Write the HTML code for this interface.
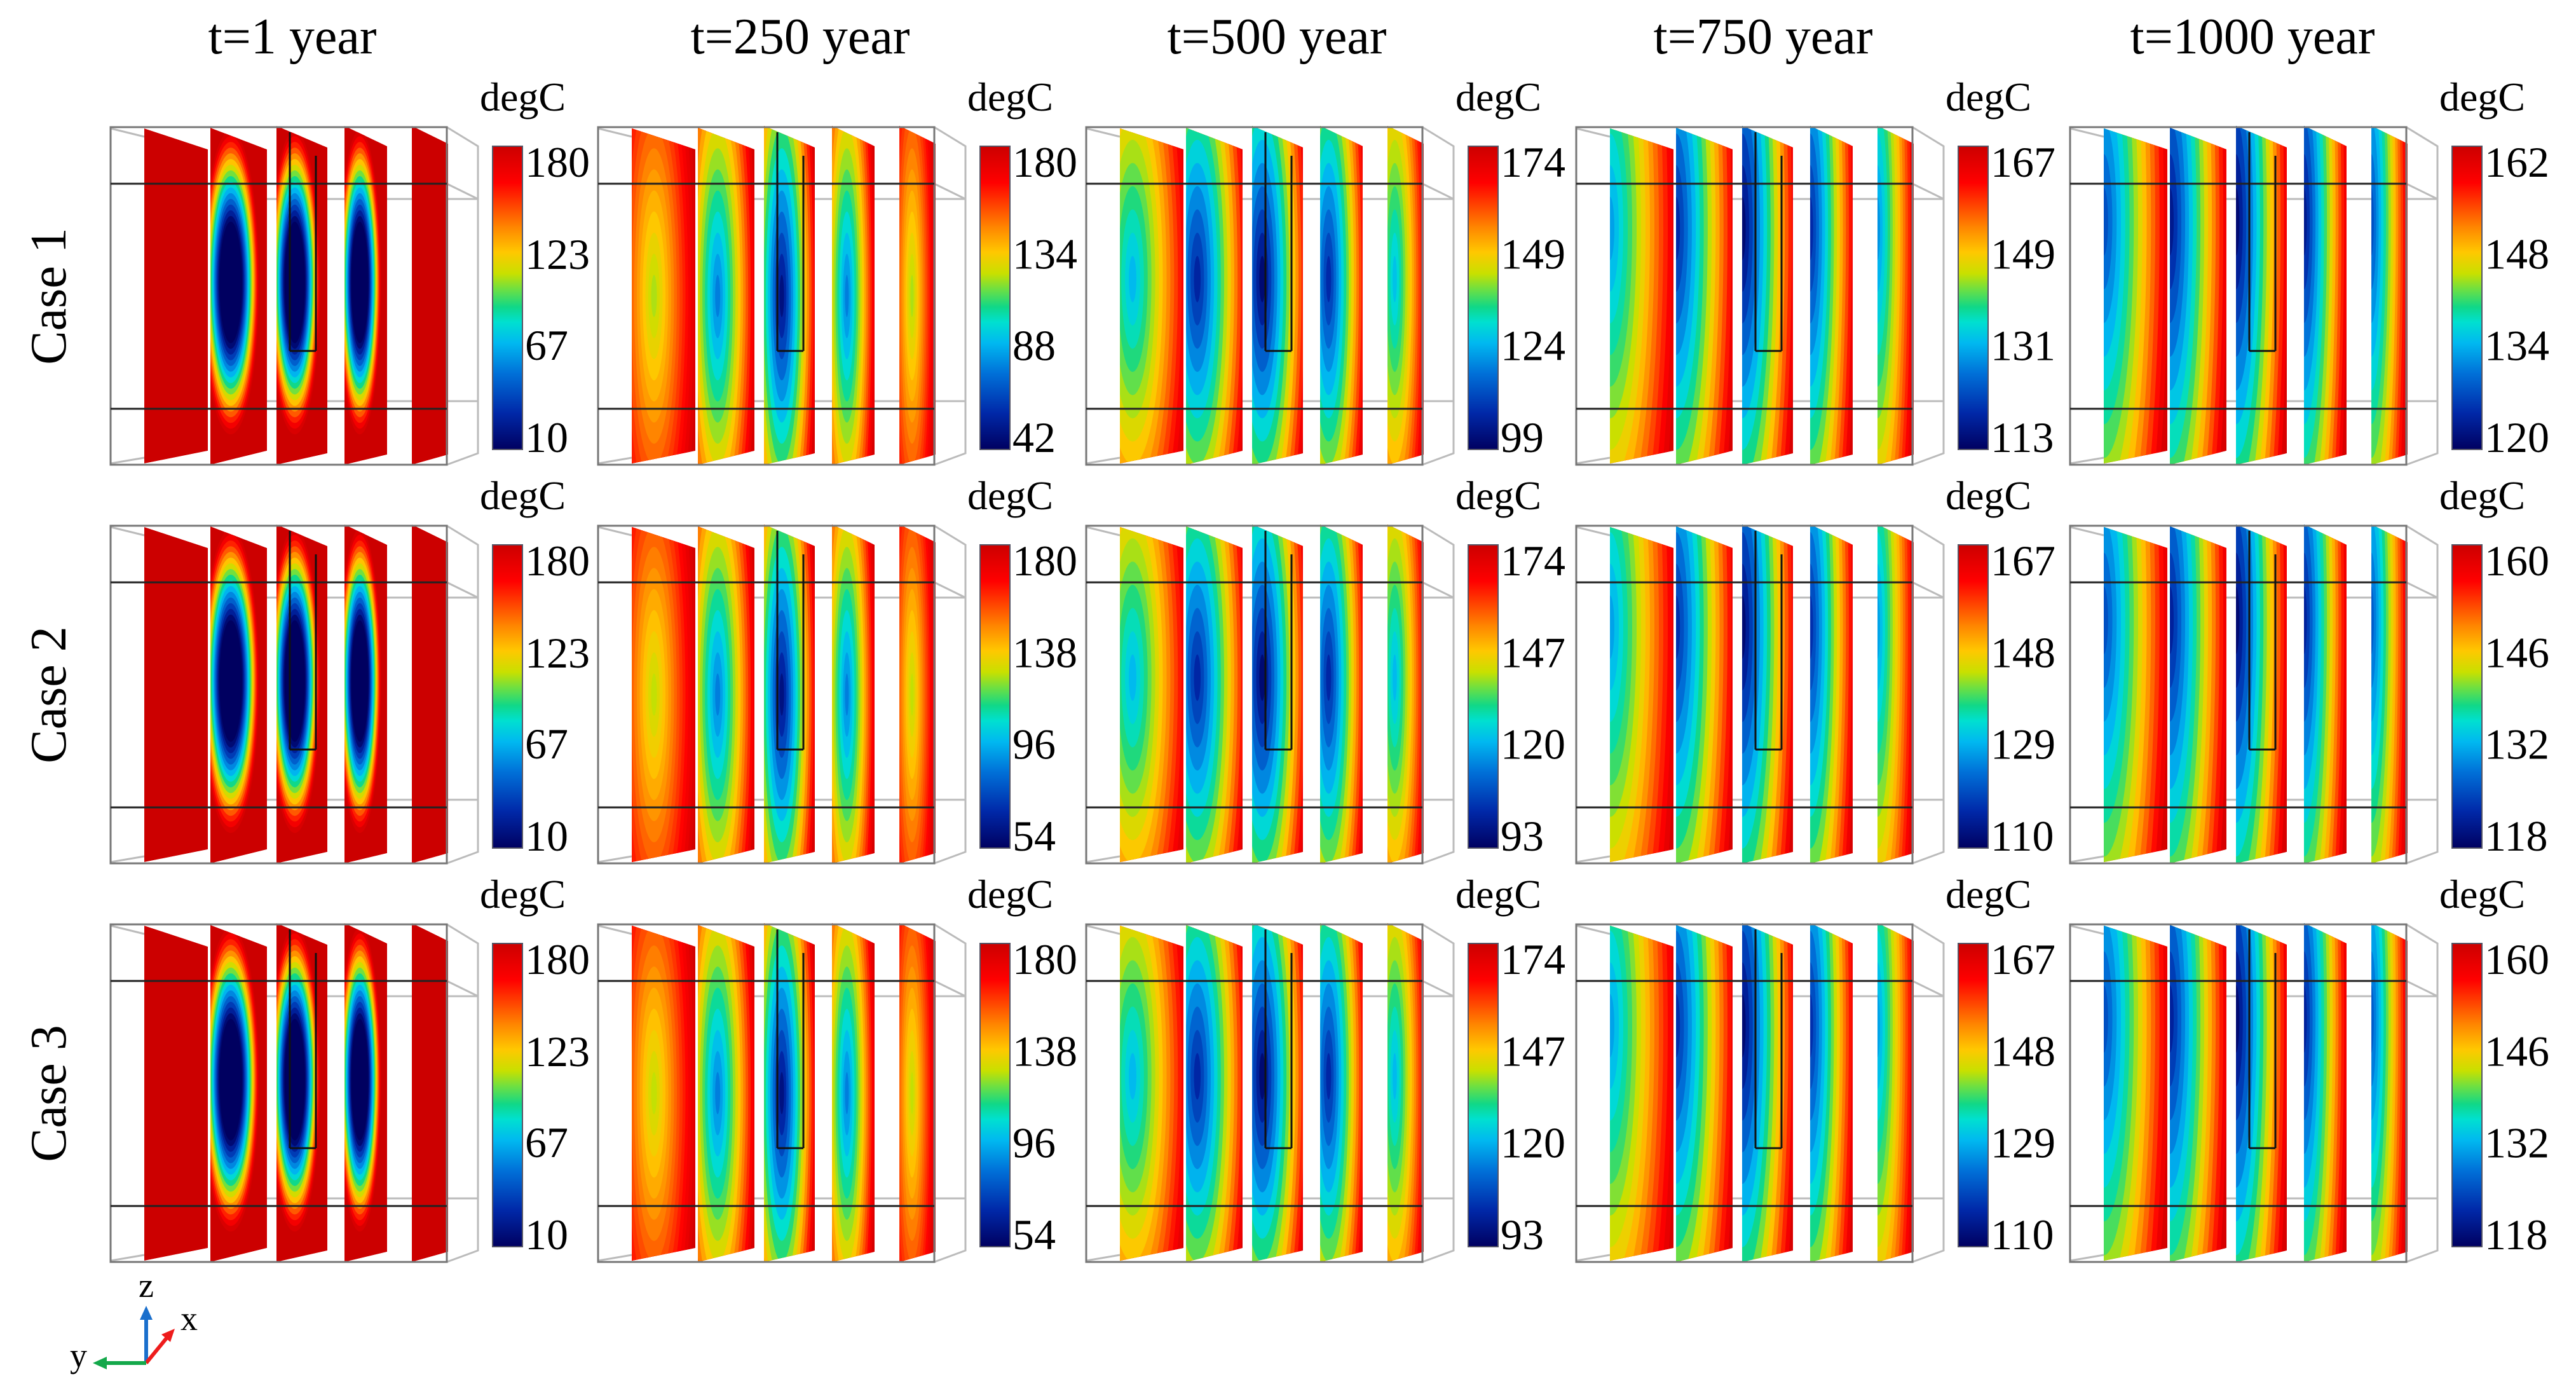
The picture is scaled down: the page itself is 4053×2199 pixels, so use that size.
<!DOCTYPE html>
<html><head><meta charset="utf-8">
<style>
html,body{margin:0;padding:0;background:#fff;overflow:hidden;width:4053px;height:2199px;}
svg{display:block;}
text{font-family:"Liberation Serif","DejaVu Serif",serif;}
</style></head>
<body>
<svg id="fig" width="4053" height="2199" viewBox="0 0 4053 2199" xmlns="http://www.w3.org/2000/svg" font-family="Liberation Serif, serif">
<defs id="defs"></defs>
</svg>
<script>
// ---- data ----
const columnTitles = ["t=1 year","t=250 year","t=500 year","t=750 year","t=1000 year"];
const rowTitles = ["Case 1","Case 2","Case 3"];
const tickRow1 = [[180,123,67,10],[180,134,88,42],[174,149,124,99],[167,149,131,113],[162,148,134,120]];
const tickRow2 = [[180,123,67,10],[180,138,96,54],[174,147,120,93],[167,148,129,110],[160,146,132,118]];
const tickRow3 = [[180,123,67,10],[180,138,96,54],[174,147,120,93],[167,148,129,110],[160,146,132,118]];
const coreRow1 = [[180,10,10,10,180],[118,76,45,76,118],[124,105,99,106,125],[129,118,113,118,128],[127,122,120,122,127]];
const coreRow2 = [[180,10,10,10,180],[125,85,57,85,125],[120,100,93,100,120],[127,116,110,116,127],[125,121,118,121,126]];
const coreRow3 = [[180,10,10,10,180],[125,85,57,85,125],[120,100,93,100,120],[127,116,110,116,127],[125,121,118,121,126]];

const ticksAll=[tickRow1,tickRow2,tickRow3];
const coresAll=[coreRow1,coreRow2,coreRow3];

// ---- layout ----
const NS="http://www.w3.org/2000/svg";
const svg=document.getElementById('fig');
const defs=document.getElementById('defs');
const FONT='Liberation Serif, DejaVu Serif, serif';
const colX=[174,941,1709,2480,3257];
const rowY=[200,827,1454];
const titleX=[460,1259,2009,2774,3544];
const slices=[[53,153,2,35,529,509],[157,246,1,35,531,509],[261,341,-2,32,531,513],[368,435,-2,30,531,515],[474,531,-2,26,531,515]];
const shapes=[[0.36,0.46,0.5,0.45,0.4],[0.35,0.5,0.72,1.0,0],[0.2,0.45,0.95,1.1,0],[0.0,0.3,1.12,1.5,0],[0.0,0.28,1.08,1.6,0]];

const jetStops=[[0,[0,0,96]],[.12,[0,40,168]],[.25,[0,112,216]],[.35,[0,184,240]],[.42,[0,224,208]],[.47,[16,216,136]],[.53,[112,224,64]],[.58,[200,224,0]],[.65,[255,200,0]],[.73,[255,136,0]],[.8,[255,72,0]],[.88,[255,0,0]],[1,[204,0,0]]];
function jet(t){t=Math.max(0,Math.min(1,t));
 for(let i=1;i<jetStops.length;i++){if(t<=jetStops[i][0]){const a=jetStops[i-1],b=jetStops[i];const f=(t-a[0])/(b[0]-a[0]);
  const c=a[1].map((v,k)=>Math.round(v+(b[1][k]-v)*f));return `rgb(${c[0]},${c[1]},${c[2]})`;}}
 return 'rgb(204,0,0)';}
function mk(tag,attrs,parent){const e=document.createElementNS(NS,tag);for(const k in attrs)e.setAttribute(k,attrs[k]);(parent||svg).appendChild(e);return e;}

const lg=mk('linearGradient',{id:'jetgrad',x1:0,y1:1,x2:0,y2:0},defs);
jetStops.forEach(s=>mk('stop',{offset:s[0],'stop-color':jet(s[0])},lg));

columnTitles.forEach((t,i)=>{
 const e=mk('text',{x:titleX[i],y:84,'font-size':80,'text-anchor':'middle',fill:'#000','font-family':FONT});
 e.textContent=t;
 
 
});
rowTitles.forEach((t,r)=>{
 const cy=rowY[r]+266;
 const e=mk('text',{x:0,y:0,'font-size':80,'text-anchor':'middle',fill:'#000','font-family':FONT,transform:`translate(103,${cy}) rotate(-90)`});
 e.textContent=t;
 
 
});

let clipId=0;
for(let r=0;r<3;r++){for(let c=0;c<5;c++){
 const ox=colX[c],oy=rowY[r];
 const ticks=ticksAll[r][c], cores=coresAll[r][c];
 const vmax=ticks[0], vmin=ticks[ticks.length-1];
 const g=mk('g',{transform:`translate(${ox},${oy})`});
 
 
 const back=mk('g',{stroke:'#bbb','stroke-width':3,fill:'none'},g);
 
 
 mk('path',{d:'M529,0 L578,30 L578,513 L529,531 M160,113 L578,113 M160,431 L578,431 M0,2 L53,15 M0,529 L53,520 M529,89 L578,113'},back);
 const sh=shapes[c];
 slices.forEach((s,k)=>{
  const [x0,x1,tl,tr,bl,br]=s;
  const id='clip'+(clipId++);
  const cp=mk('clipPath',{id:id},defs);
  const pts=`${x0},${tl} ${x1},${tr} ${x1},${br} ${x0},${bl}`;
  mk('polygon',{points:pts},cp);
  const sg=mk('g',{'clip-path':`url(#${id})`},g);
  
  
  const w=x1-x0,h=531;
  const tCore=(cores[k]-vmin)/(vmax-vmin);
  mk('polygon',{points:pts,fill:jet(1)},sg);
  const cx=x0+sh[0]*w, cy=sh[1]*h, rx=sh[2]*w, ry=sh[3]*h, p=sh[4];
  const N=16;
  if(tCore<0.999){
   for(let j=N;j>=1;j--){
    const d=p+(1-p)*j/N;
    const t=tCore+(1-tCore)*(j-0.5)/N;
    mk('ellipse',{cx:cx,cy:cy,rx:rx*d,ry:ry*d,fill:jet(t)},sg);
   }
   if(p>0)mk('ellipse',{cx:cx,cy:cy,rx:rx*p,ry:ry*p,fill:jet(tCore)},sg);
  }
 });
 const fr=mk('g',{fill:'none'},g);
 
 
 mk('rect',{x:0,y:0,width:529,height:531,stroke:'#777','stroke-width':3},fr);
 mk('path',{d:'M0,89 L529,89 M0,443 L529,443',stroke:'#222','stroke-width':3},fr);
 mk('path',{d:'M282,352 L282,8 M323,45 L323,352 M282,352 L323,352',stroke:'#111','stroke-width':3},fr);
 const cb=mk('rect',{x:601,y:30,width:47,height:477,fill:'url(#jetgrad)',stroke:'#556','stroke-width':2},g);
 
 
 const unit=mk('text',{x:581,y:-26,'font-size':64,fill:'#000','font-family':FONT},g);
 unit.textContent='degC';
 
 
 const yScale=v=>(30+477-20)-(v-vmin)/(vmax-vmin)*(477-44);
 ticks.forEach(v=>{
  const tx=mk('text',{x:652,y:yScale(v)+24,'font-size':68,fill:'#000','font-family':FONT},g);
  tx.textContent=v;
  
  
 });
}}

const tri=mk('g',{});


mk('path',{d:'M230,2144 L230,2070',stroke:'#1a6fcc','stroke-width':6},tri);
mk('polygon',{points:'230,2054 220,2076 240,2076',fill:'#1a6fcc'},tri);
mk('path',{d:'M230,2144 L266,2100',stroke:'#ee1c1c','stroke-width':6},tri);
mk('polygon',{points:'275,2090 254,2099 268,2111',fill:'#ee1c1c'},tri);
mk('path',{d:'M230,2144 L165,2144',stroke:'#13a84a','stroke-width':6},tri);
mk('polygon',{points:'146,2144 168,2134 168,2154',fill:'#13a84a'},tri);
[['z',218,2040],['x',284,2092],['y',110,2150]].forEach(a=>{
 const e=mk('text',{x:a[1],y:a[2],'font-size':54,fill:'#000','font-family':FONT},tri);
 e.textContent=a[0];
 
 
});
</script>
</body></html>
